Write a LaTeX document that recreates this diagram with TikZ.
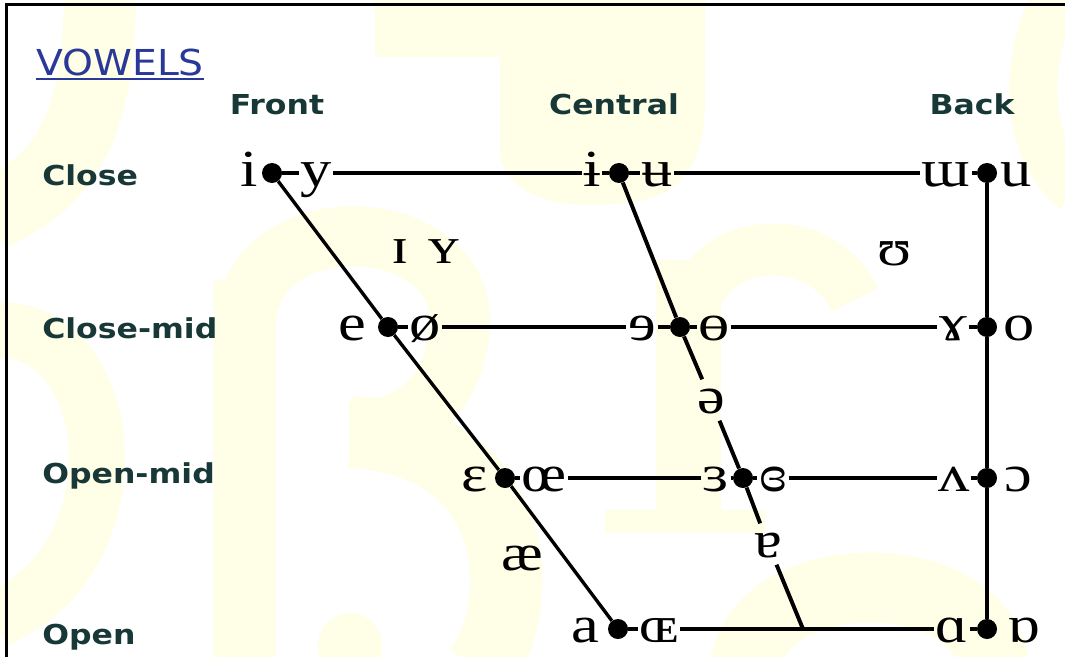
\documentclass[tikz,border=0pt]{standalone}
\usepackage{fontspec}
\newfontfamily\ipafont{Liberation Serif}[FakeStretch=1.2]
\newfontfamily\labfont{DejaVu Sans}[FakeStretch=1.15]
\newfontfamily\ttlfont{DejaVu Sans}[FakeStretch=1.1]
\definecolor{ttlblue}{RGB}{42,56,152}
\definecolor{labgreen}{RGB}{24,56,56}
\definecolor{wmyellow}{RGB}{255,254,230}
\tikzset{
  ipa/.style = {font=\ipafont\fontsize{37}{40}\selectfont, inner sep=1pt, text height=0.8cm, text depth=0.15cm},
  vdot/.style = {circle, fill=black, inner sep=0pt, minimum size=0.5cm},
  lab/.style = {font=\labfont\bfseries\fontsize{19.5}{22}\selectfont, text=labgreen, inner sep=0pt, anchor=base west},
  head/.style = {lab, anchor=base},
  rowline/.style = {line width=2.8pt},
  thinline/.style = {line width=2.2pt},
  wm/.style = {wmyellow, line width=1.6cm}
}

\begin{document}
\begin{tikzpicture}[x=0.025cm, y=-0.025cm]
  \useasboundingbox (0,0) rectangle (1065,657);
  % faint letters behind the chart
  \begin{scope}
    \clip (0,0) rectangle (1065,657);
    \draw[wm, line width=1.8cm] (100,-10) .. controls (100,120) and (70,180) .. (-10,215);
    \fill[wmyellow] (375,0) -- (705,0) -- (705,100) .. controls (705,190) and (660,205) .. (590,205) .. controls (530,205) and (500,180) .. (500,150) -- (500,57) -- (375,57) -- cycle;
    \fill[wmyellow] (656,260) rectangle (721,530);
    \fill[wmyellow] (605,510) rectangle (765,533);
    \draw[wm, line width=1.3cm] (690,320) .. controls (700,235) and (820,225) .. (855,300);
    \draw[wm, line width=1.2cm] (1060,-10) .. controls (1020,60) and (1025,150) .. (1075,190);
    \draw[wm, line width=1.4cm] (0,330) .. controls (120,330) and (140,560) .. (-5,620);
    \fill[wmyellow] (214,280) rectangle (276,667);
    \draw[wm, line width=1.5cm] (245,330) .. controls (245,200) and (470,210) .. (460,330) .. controls (450,410) and (400,430) .. (350,432);
    \draw[wm, line width=1.8cm] (350,432) .. controls (520,440) and (530,600) .. (480,670);
    \fill[wmyellow] (350,645) circle (32);
    \draw[wm, line width=1.75cm] (745,670) .. controls (755,560) and (985,560) .. (995,670);
  \end{scope}

  % frame
  \draw[line width=1.5pt] (6.5,657) -- (6.5,4.5) -- (1065,4.5);

  % headings
  \node[font=\ttlfont\fontsize{25.4}{28}\selectfont, text=ttlblue, anchor=base west, inner sep=0pt] (vowels) at (36,75) {VOWELS};
  \draw[ttlblue, line width=1.4pt] ([yshift=-0.1cm]vowels.base west) -- ([yshift=-0.1cm]vowels.base east);
  \node[head] (front) at (277,115) {Front};
  \node[head] (central) at (614,115) {Central};
  \node[head] (back) at (972,115) {Back};
  \node[lab] (close) at (42,185) {Close};
  \node[lab] (closemid) at (42,338) {Close-mid};
  \node[lab] (openmid) at (42,483) {Open-mid};
  \node[lab] (open) at (42,644) {Open};

  % dots
  \foreach \n/\x/\y in {cF/272/173, cC/619/173, cB/987/173, cmF/388/327, cmC/680/327, cmB/987/327,
                        omF/505/478, omC/743/478, omB/987/478, oF/618/629, oB/987/629}
    \node[vdot] (\n) at (\x,\y) {};

  % vowel symbols
  \foreach \n/\x/\v in {i/249/i, y/316/y, ibar/592/ɨ, ubar/657/ʉ, turnm/946/ɯ, u/1016/u}
    \node[ipa] (\n) at (\x,173) {\v};
  \foreach \n/\x/\v in {e/352/e, oslash/425/ø, reve/642/ɘ, obar/714/ɵ, gamma/953/ɤ, o/1019/o}
    \node[ipa] (\n) at (\x,327) {\v};
  \foreach \n/\x/\v in {eps/475/ɛ, oe/544/œ, reveps/716/ɜ, cloeps/773/ɞ, turnv/954/ʌ, openo/1018/ɔ}
    \node[ipa] (\n) at (\x,478) {\v};
  \foreach \n/\x/\v in {a/585/a, OE/659/ɶ, alpha/952/ɑ, turnalpha/1024/ɒ}
    \node[ipa] (\n) at (\x,629) {\v};
  \node[ipa] (smallI) at (400,250) {ɪ};
  \node[ipa] (smallY) at (444,250) {ʏ};
  \node[ipa] (upsilon) at (895,252) {ʊ};
  \node[ipa] (schwa) at (711,400) {ə};
  \node[ipa] (turna) at (768,544) {ɐ};
  \node[ipa] (ae) at (522,557) {æ};

  % rows
  \draw[rowline] (cF) -- (y) -- (ibar) -- (cC) -- (ubar) -- (turnm) -- (cB);
  \draw[thinline] (cmF) -- (oslash) -- (reve) -- (cmC) -- (obar) -- (gamma) -- (cmB);
  \draw[rowline] (omF) -- (oe) -- (reveps) -- (omC) -- (cloeps) -- (turnv) -- (omB);
  \draw[rowline] (oF) -- (OE) -- (alpha) -- (oB);

  % columns
  \coordinate (cBot) at (803,629);
  \draw[line width=2.4pt] (cF) -- (cmF) -- (omF) -- (oF);
  \draw[rowline] (cC) -- (cmC) -- (schwa) -- (omC) -- (turna) -- (cBot);
  \draw[line width=3pt] (cB) -- (cmB) -- (omB) -- (oB);
\end{tikzpicture}
\end{document}
